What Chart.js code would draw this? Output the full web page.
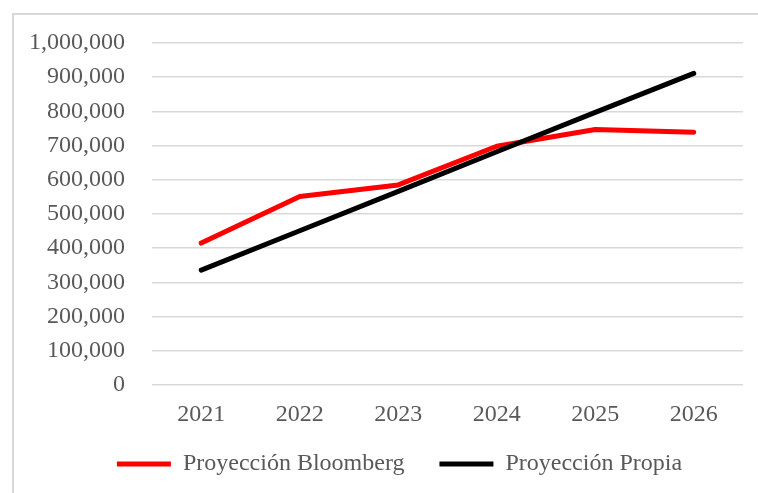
<!DOCTYPE html>
<html>
<head>
<meta charset="utf-8">
<script src="https://cdn.jsdelivr.net/npm/chart.js@4"></script>
<style>
html, body { margin: 0; padding: 0; background: #fff; }
#wrap { position: relative; width: 758px; height: 493px; overflow: hidden; }
#frame { position: absolute; left: 12px; top: 13px; width: 800px; height: 600px;
         border-left: 2px solid #d9d9d9; border-top: 2px solid #d9d9d9; }
canvas { position: absolute; left: 0; top: 0; }
</style>
</head>
<body>
<div id="wrap">
  <div id="frame"></div>
  <canvas id="chart" width="758" height="493"></canvas>
</div>
<script>
var years = ['2021', '2022', '2023', '2024', '2025', '2026'];
var bloomberg = [415000, 551000, 585000, 698000, 747000, 739000];
var propia = [336000, 451000, 566000, 682000, 797000, 911000];

var serif = { family: '"Liberation Serif", "Times New Roman", serif', size: 24 };
var grey = '#595959';

// nudge the legend box a little right and up after layout
var legendNudge = {
    id: 'legendNudge',
    afterLayout: function (chart) {
        var lg = chart.legend;
        lg.left += 28; lg.right += 28;
        lg.top -= 5; lg.bottom -= 5;
    }
};

new Chart('chart', {
    type: 'line',
    data: {
        labels: years,
        datasets: [{
            label: 'Proyección Bloomberg',
            data: bloomberg,
            borderColor: '#ff0000',
            backgroundColor: '#ff0000',
            borderWidth: 5,
            borderCapStyle: 'round',
            borderJoinStyle: 'round',
            pointRadius: 0,
            tension: 0,
            order: 2
        }, {
            label: 'Proyección Propia',
            data: propia,
            borderColor: '#000000',
            backgroundColor: '#000000',
            borderWidth: 5,
            borderCapStyle: 'round',
            borderJoinStyle: 'round',
            pointRadius: 0,
            tension: 0,
            order: 1
        }]
    },
    options: {
        responsive: false,
        animation: false,
        devicePixelRatio: 1,
        layout: { padding: { top: 43, right: 15, bottom: 2, left: 0 } },
        scales: {
            x: {
                offset: true,
                grid: { display: false, drawTicks: false },
                border: { display: false },
                ticks: { font: serif, color: grey, padding: 15 },
                afterFit: function (s) { s.height = 37; }
            },
            y: {
                min: 0,
                max: 1000000,
                grid: { color: '#d9d9d9', lineWidth: 1.5, drawTicks: false },
                border: { display: false },
                ticks: {
                    stepSize: 100000,
                    font: serif,
                    color: grey,
                    padding: 27,
                    callback: function (v) { return v.toLocaleString('en-US'); }
                },
                afterFit: function (s) { s.width = 152; }
            }
        },
        plugins: {
            legend: {
                position: 'bottom',
                labels: {
                    font: serif,
                    color: grey,
                    padding: 35,
                    usePointStyle: true,
                    pointStyle: 'line',
                    pointStyleWidth: 54,
                    sort: function (a, b) { return a.datasetIndex - b.datasetIndex; }
                }
            },
            tooltip: { enabled: false }
        }
    },
    plugins: [legendNudge]
});
</script>
</body>
</html>
